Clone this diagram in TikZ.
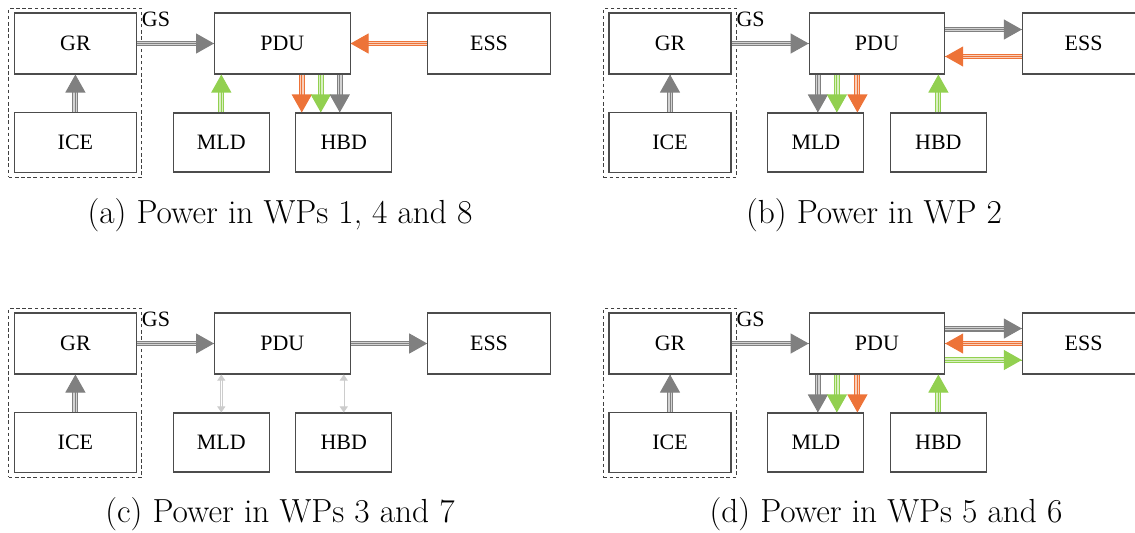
\documentclass[tikz,border=0pt]{standalone}
\usepackage{fontspec}
\newfontfamily\boxfont{Liberation Serif}
\usetikzlibrary{arrows.meta,fit,positioning}

\definecolor{pgray}{RGB}{128,128,128}
\definecolor{porange}{RGB}{237,115,56}
\definecolor{pgreen}{RGB}{146,208,80}

\begin{document}
\begin{tikzpicture}[x=0.02cm,y=-0.02cm]

% definitions
\tikzstyle{block} = [rectangle, minimum width=2.44cm, minimum height=1.22cm, inner sep=0pt, draw=black!70, line width=0.6pt, font=\boxfont\fontsize{12.5}{14}\selectfont]

\tikzstyle{group} = [rectangle, draw=black!75, dash pattern=on 2pt off 1.5pt, line width=0.6pt, inner xsep=0.1cm, inner ysep=0.085cm]

\tikzstyle{lbl} = [inner sep=0pt, font=\boxfont\fontsize{12.5}{14}\selectfont]

\tikzstyle{subcap} = [anchor=base, inner sep=0pt, font=\fontsize{19}{22}\selectfont]

\tikzset{flow/.style={draw=#1, line width=0.6pt, double=#1!35, double distance=2.2pt, -{Triangle[length=0.36cm,width=0.4cm]}, postaction={draw=#1, line width=0.5pt, -}}}

\tikzstyle{idle} = [draw=black!20, line width=0.4pt, double=white, double distance=0.6pt, {Triangle[length=0.12cm,width=0.16cm]}-{Triangle[length=0.12cm,width=0.16cm]}]

\clip (0,0) rectangle (1135,532);

% the boxes, the same in all four panels
\foreach \p/\dx/\dy in {a/0/0, b/594.6/0, c/0/300, d/594.6/300} {
  \begin{scope}[shift={(\dx,\dy)}]
  \node (gr-\p) [block] at (75.4,43.5) {GR};
  \node (ice-\p) [block, below of=gr-\p, node distance=1.98cm, minimum height=1.2cm] {ICE};
  \node (grp-\p) [group, fit=(gr-\p)(ice-\p)] {};
  \node (gs-\p) [lbl] at (156,19) {GS};

  \node (pdu-\p) [block, minimum width=2.71cm] at (282.3,43.5) {PDU};
  \node (ess-\p) [block, minimum width=2.45cm] at (489,43.5) {ESS};

  \node (mld-\p) [block, minimum width=1.92cm, minimum height=1.18cm] at (221.3,142.5) {MLD};
  \node (hbd-\p) [block, minimum width=1.92cm, minimum height=1.18cm, right of=mld-\p, node distance=2.45cm] {HBD};

  \draw [flow=pgray] (ice-\p) -- (gr-\p);
  \draw [flow=pgray] (gr-\p) -- (pdu-\p);
  \end{scope}
}

% (a)
\draw [flow=porange] (ess-a) -- (pdu-a);
\draw [flow=pgreen] (mld-a.north) -- (mld-a.north |- pdu-a.south);
\draw [flow=porange] ([xshift=-0.84cm]hbd-a.north |- pdu-a.south) -- ([xshift=-0.84cm]hbd-a.north);
\draw [flow=pgreen] ([xshift=-0.46cm]hbd-a.north |- pdu-a.south) -- ([xshift=-0.46cm]hbd-a.north);
\draw [flow=pgray] ([xshift=-0.08cm]hbd-a.north |- pdu-a.south) -- ([xshift=-0.08cm]hbd-a.north);

% (b)
\draw [flow=pgray] ([yshift=0.28cm]pdu-b.east) -- ([yshift=0.28cm]pdu-b.east -| ess-b.west);
\draw [flow=porange] ([yshift=-0.26cm]ess-b.west) -- ([yshift=-0.26cm]ess-b.west -| pdu-b.east);
\draw [flow=pgray] ([xshift=0.04cm]mld-b.north |- pdu-b.south) -- ([xshift=0.04cm]mld-b.north);
\draw [flow=pgreen] ([xshift=0.42cm]mld-b.north |- pdu-b.south) -- ([xshift=0.42cm]mld-b.north);
\draw [flow=porange] ([xshift=0.83cm]mld-b.north |- pdu-b.south) -- ([xshift=0.83cm]mld-b.north);
\draw [flow=pgreen] (hbd-b.north) -- (hbd-b.north |- pdu-b.south);

% (c)
\draw [flow=pgray] (pdu-c) -- (ess-c);
\draw [idle] (mld-c.north) -- (mld-c.north |- pdu-c.south);
\draw [idle] (hbd-c.north) -- (hbd-c.north |- pdu-c.south);

% (d)
\draw [flow=pgray] ([yshift=0.3cm]pdu-d.east) -- ([yshift=0.3cm]pdu-d.east -| ess-d.west);
\draw [flow=porange] (ess-d) -- (pdu-d);
\draw [flow=pgreen] ([yshift=-0.33cm]pdu-d.east) -- ([yshift=-0.33cm]pdu-d.east -| ess-d.west);
\draw [flow=pgray] ([xshift=0.04cm]mld-d.north |- pdu-d.south) -- ([xshift=0.04cm]mld-d.north);
\draw [flow=pgreen] ([xshift=0.42cm]mld-d.north |- pdu-d.south) -- ([xshift=0.42cm]mld-d.north);
\draw [flow=porange] ([xshift=0.83cm]mld-d.north |- pdu-d.south) -- ([xshift=0.83cm]mld-d.north);
\draw [flow=pgreen] (hbd-d.north) -- (hbd-d.north |- pdu-d.south);

% captions
\node (cap-a) [subcap] at (280,223) {(a) Power in WPs 1, 4 and 8};
\node (cap-b) [subcap] at (874,223) {(b) Power in WP 2};
\node (cap-c) [subcap] at (280,522) {(c) Power in WPs 3 and 7};
\node (cap-d) [subcap] at (886,522) {(d) Power in WPs 5 and 6};

\end{tikzpicture}
\end{document}
